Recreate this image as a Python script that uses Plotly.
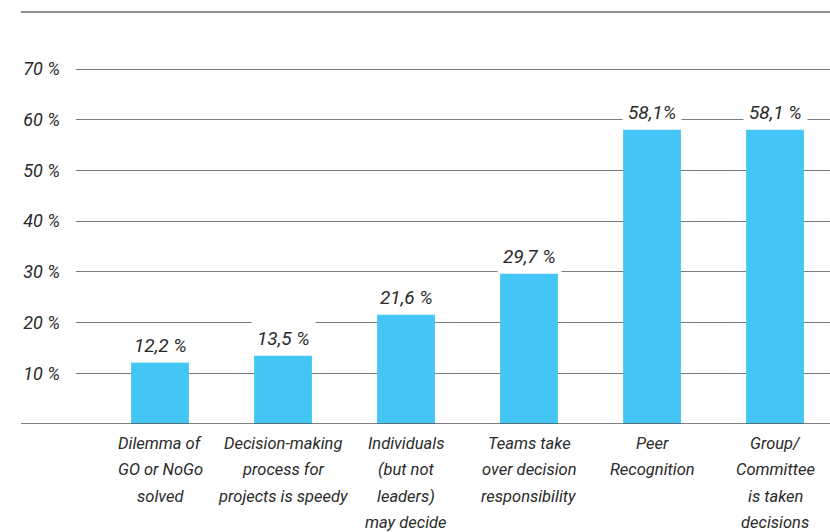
import plotly.graph_objects as go

# Survey results: share of respondents per statement
categories = [
    "Dilemma of<br>GO or NoGo<br>solved",
    "Decision-making<br>process for<br>projects is speedy",
    "Individuals<br>(but not<br>leaders)<br>may decide",
    "Teams take<br>over decision<br>responsibility",
    "Peer<br>Recognition",
    "Group/<br>Committee<br>is taken<br>decisions",
]
values = [12.2, 13.5, 21.6, 29.7, 58.1, 58.1]
value_labels = ["12,2 %", "13,5 %", "21,6 %", "29,7 %", "58,1%", "58,1 %"]
y_ticks = [10, 20, 30, 40, 50, 60, 70]
y_tick_labels = ["10 %", "20 %", "30 %", "40 %", "50 %", "60 %", "70 %"]

FONT = "Roboto, Liberation Sans, Arial, sans-serif"
TEXT = "#2a2a2a"
BAR = "#43C6F3"

fig = go.Figure(
    go.Bar(
        x=categories,
        y=values,
        marker=dict(color=BAR, line=dict(width=0)),
        width=0.47,
        hoverinfo="skip",
    )
)

annotations = []
# value labels above each bar, with white background to break the grid lines
for cat, val, lab in zip(categories, values, value_labels):
    annotations.append(dict(
        x=cat, y=val, xref="x", yref="y", text=lab, showarrow=False,
        yanchor="middle", yshift=17, bgcolor="white", borderpad=5,
        font=dict(family=FONT, size=19, color=TEXT, style="italic"),
    ))

# category labels under the axis, one line at a time for looser leading
for cat in categories:
    for j, line in enumerate(cat.split("<br>")):
        annotations.append(dict(
            x=cat, y=0, xref="x", yref="y", text=line, showarrow=False,
            yanchor="middle", yshift=-19 - 26.5 * j,
            font=dict(family=FONT, size=16.5, color=TEXT, style="italic"),
        ))

left_ext = (21 - 76) / 754.0
shapes = [
    # top rule
    dict(type="line", xref="paper", yref="paper", x0=left_ext, x1=1, y0=1, y1=1,
         line=dict(color="#6a6a6a", width=1.5), layer="above"),
    # baseline
    dict(type="line", xref="paper", yref="y", x0=left_ext, x1=1, y0=0, y1=0,
         line=dict(color="#555555", width=1.5), layer="above"),
]

fig.update_layout(
    width=830, height=532,
    margin=dict(l=76, r=0, t=12, b=108),
    paper_bgcolor="white", plot_bgcolor="white",
    showlegend=False,
    annotations=annotations,
    shapes=shapes,
    xaxis=dict(
        type="category", range=[-0.683, 5.447],
        showticklabels=False, showgrid=False, zeroline=False, showline=False,
        fixedrange=True,
    ),
    yaxis=dict(
        range=[0, 81.25],
        tickvals=y_ticks, ticktext=y_tick_labels,
        tickfont=dict(family=FONT, size=18, color=TEXT, style="italic"),
        ticklabelstandoff=15,
        showgrid=True, gridcolor="#7a7a7a", gridwidth=1,
        zeroline=False, showline=False, ticks="",
        fixedrange=True,
    ),
)

fig.write_html("out.html")
